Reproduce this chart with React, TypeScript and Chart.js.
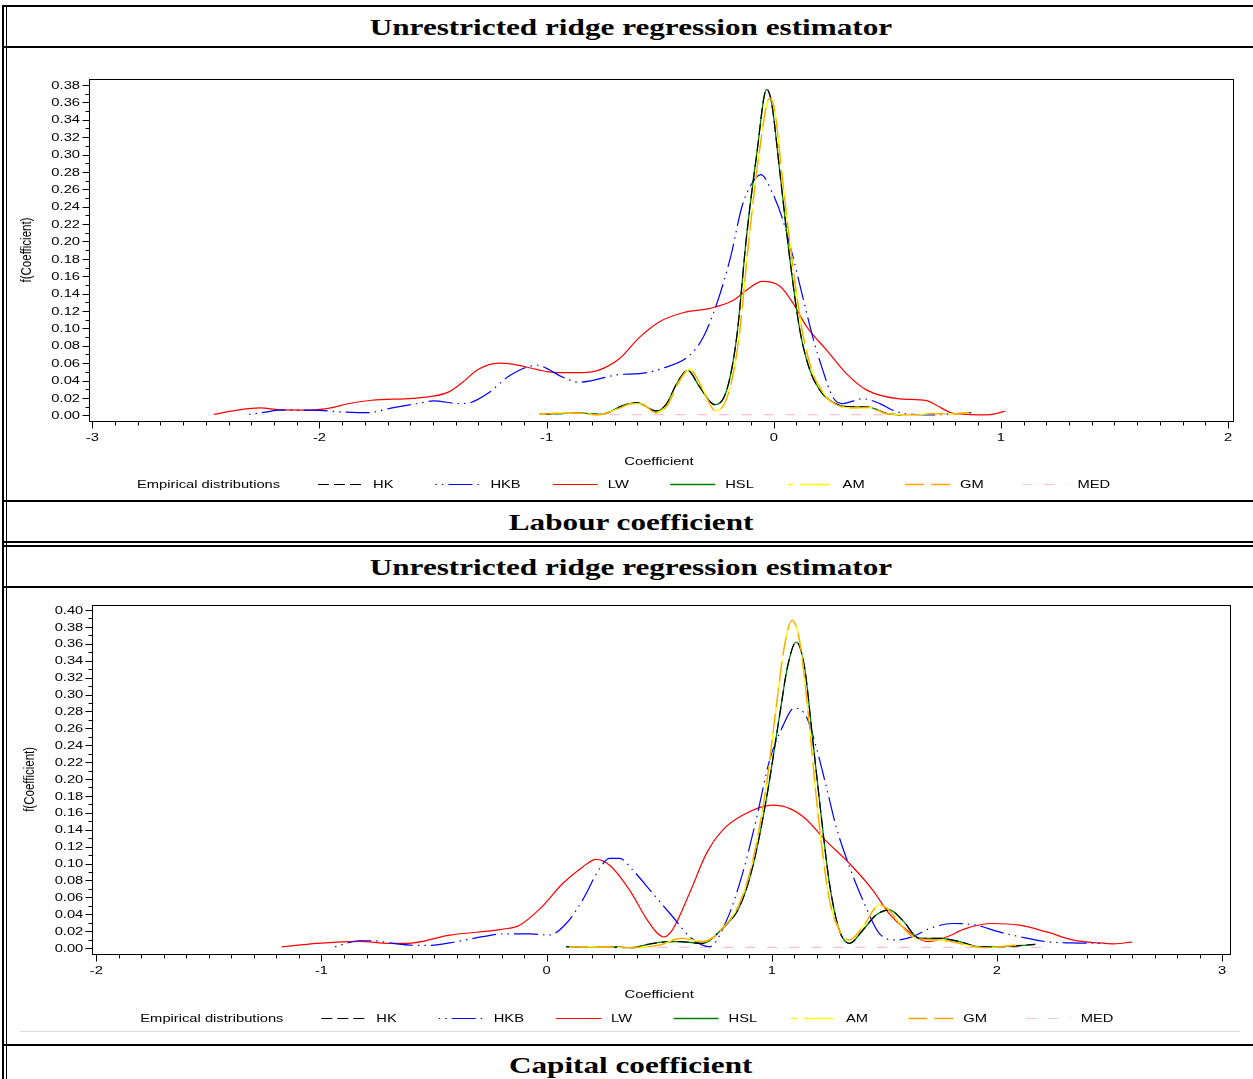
import React, { useEffect, useRef } from 'react';
import { Chart, registerables } from 'chart.js';

Chart.register(...registerables);

type Pt = [number, number];

// ---------- Labour coefficient (top panel) ----------
const labourXTicks = [-3, -2, -1, 0, 1, 2];
const labourYTicks = [0, 0.02, 0.04, 0.06, 0.08, 0.1, 0.12, 0.14, 0.16, 0.18, 0.2, 0.22, 0.24, 0.26, 0.28, 0.3, 0.32, 0.34, 0.36, 0.38];

const labourHSL: Pt[] = [
  [-1.03, 0.001], [-0.94, 0.002], [-0.855, 0.0027], [-0.77, 0.001], [-0.72, 0.004], [-0.68, 0.0096],
  [-0.604, 0.0146], [-0.516, 0.005], [-0.471, 0.0135], [-0.427, 0.0365], [-0.379, 0.0518], [-0.326, 0.0326],
  [-0.26, 0.0123], [-0.207, 0.029], [-0.163, 0.09], [-0.12, 0.205], [-0.075, 0.3], [-0.031, 0.375],
  [-0.009, 0.359], [0.026, 0.282], [0.07, 0.182], [0.115, 0.098], [0.159, 0.052], [0.203, 0.029],
  [0.26, 0.015], [0.348, 0.0096], [0.41, 0.0096], [0.5, 0.002], [0.56, 0.0005],
];
const labourHK: Pt[] = labourHSL;
const labourHKB: Pt[] = [
  [-2.31, 0.001], [-2.23, 0.004], [-2.18, 0.006], [-2.03, 0.006], [-1.91, 0.004], [-1.79, 0.003],
  [-1.68, 0.0085], [-1.56, 0.014], [-1.5, 0.0165], [-1.38, 0.0135], [-1.33, 0.015], [-1.26, 0.025],
  [-1.16, 0.046], [-1.04, 0.0576], [-1.0, 0.054], [-0.93, 0.044], [-0.855, 0.038], [-0.8, 0.04],
  [-0.72, 0.045], [-0.68, 0.047], [-0.59, 0.048], [-0.49, 0.054], [-0.37, 0.069], [-0.31, 0.09],
  [-0.25, 0.129], [-0.19, 0.182], [-0.14, 0.24], [-0.1, 0.265], [-0.057, 0.277], [-0.004, 0.255],
  [0.04, 0.225], [0.085, 0.182], [0.128, 0.136], [0.172, 0.09], [0.216, 0.052], [0.26, 0.021],
  [0.304, 0.0135], [0.392, 0.019], [0.467, 0.0135], [0.524, 0.0058], [0.612, 0.001], [0.7, 0.0005],
  [0.8, 0.002], [0.87, 0.003],
];
const labourLW: Pt[] = [
  [-2.465, 0.001], [-2.36, 0.006], [-2.26, 0.0085], [-2.18, 0.0065], [-2.04, 0.006], [-1.95, 0.0085],
  [-1.88, 0.013], [-1.77, 0.0173], [-1.59, 0.0195], [-1.5, 0.022], [-1.43, 0.027], [-1.37, 0.038],
  [-1.3, 0.053], [-1.21, 0.06], [-1.15, 0.059], [-1.09, 0.0556], [-0.99, 0.05], [-0.9, 0.049],
  [-0.8, 0.05], [-0.75, 0.054], [-0.68, 0.065], [-0.59, 0.09], [-0.5, 0.108], [-0.4, 0.118],
  [-0.28, 0.123], [-0.18, 0.132], [-0.12, 0.144], [-0.05, 0.154], [0.03, 0.148], [0.085, 0.129],
  [0.145, 0.102], [0.233, 0.075], [0.32, 0.048], [0.41, 0.029], [0.555, 0.019], [0.673, 0.017],
  [0.72, 0.011], [0.78, 0.003], [0.85, 0.001], [0.93, 0.0005], [0.98, 0.002], [1.02, 0.005],
];
const labourAM: Pt[] = [
  [-1.03, 0.001], [-0.94, 0.0025], [-0.85, 0.0025], [-0.77, 0.0005], [-0.7, 0.006], [-0.62, 0.0135],
  [-0.58, 0.013], [-0.52, 0.003], [-0.47, 0.011], [-0.42, 0.037], [-0.37, 0.053], [-0.32, 0.034],
  [-0.255, 0.005], [-0.2, 0.025], [-0.155, 0.085], [-0.11, 0.2], [-0.065, 0.3], [-0.018, 0.365],
  [0.005, 0.35], [0.035, 0.28], [0.08, 0.18], [0.125, 0.098], [0.17, 0.05], [0.215, 0.027],
  [0.27, 0.013], [0.35, 0.0085], [0.42, 0.009], [0.5, 0.0015], [0.6, 0.0005], [0.7, 0.002],
  [0.78, 0.0015], [0.86, 0.003],
];
const labourGM: Pt[] = labourAM;
const labourMED: Pt[] = [[-0.82, 0.0008], [0.5, 0.0008]];

// ---------- Capital coefficient (bottom panel) ----------
const capitalXTicks = [-2, -1, 0, 1, 2, 3];
const capitalYTicks = [0, 0.02, 0.04, 0.06, 0.08, 0.1, 0.12, 0.14, 0.16, 0.18, 0.2, 0.22, 0.24, 0.26, 0.28, 0.3, 0.32, 0.34, 0.36, 0.38, 0.4];

const capitalHSL: Pt[] = [
  [0.087, 0.0015], [0.235, 0.0015], [0.38, 0.0004], [0.457, 0.0047], [0.546, 0.0075], [0.59, 0.0075],
  [0.69, 0.0055], [0.78, 0.023], [0.857, 0.049], [0.915, 0.096], [0.975, 0.175], [1.034, 0.274],
  [1.07, 0.333], [1.108, 0.362], [1.145, 0.333], [1.182, 0.246], [1.22, 0.155], [1.256, 0.0766],
  [1.3, 0.021], [1.345, 0.0055], [1.404, 0.021], [1.463, 0.039], [1.523, 0.045], [1.58, 0.033],
  [1.656, 0.0115], [1.744, 0.0115], [1.833, 0.0075], [1.92, 0.0015], [2.01, 0.0015], [2.17, 0.0044],
];
const capitalHK: Pt[] = capitalHSL;
const capitalHKB: Pt[] = [
  [-0.94, 0.0015], [-0.83, 0.0086], [-0.77, 0.0086], [-0.7, 0.006], [-0.61, 0.0035], [-0.52, 0.003],
  [-0.4, 0.0075], [-0.284, 0.0134], [-0.195, 0.0166], [-0.075, 0.0166], [0.013, 0.0154], [0.087, 0.029],
  [0.16, 0.057], [0.235, 0.094], [0.28, 0.106], [0.324, 0.106], [0.383, 0.092], [0.47, 0.065],
  [0.56, 0.037], [0.635, 0.0134], [0.723, 0.0015], [0.8, 0.033], [0.87, 0.088], [0.93, 0.151],
  [0.99, 0.222], [1.048, 0.262], [1.1, 0.284], [1.153, 0.274], [1.197, 0.238], [1.242, 0.191],
  [1.286, 0.1435], [1.345, 0.096], [1.404, 0.057], [1.478, 0.017], [1.552, 0.0095], [1.626, 0.0134],
  [1.7, 0.023], [1.803, 0.029], [1.907, 0.027], [2.01, 0.019], [2.1, 0.0134], [2.218, 0.0075],
  [2.335, 0.006], [2.48, 0.0055],
];
const capitalLW: Pt[] = [
  [-1.178, 0.0012], [-1.02, 0.0055], [-0.83, 0.0079], [-0.7, 0.0055], [-0.62, 0.0055], [-0.43, 0.0153],
  [-0.2, 0.022], [-0.12, 0.027], [-0.02, 0.049], [0.07, 0.076], [0.16, 0.096], [0.22, 0.105],
  [0.28, 0.098], [0.37, 0.068], [0.44, 0.036], [0.49, 0.018], [0.52, 0.013], [0.56, 0.022],
  [0.635, 0.065], [0.71, 0.112], [0.78, 0.139], [0.87, 0.157], [1.0, 0.169], [1.08, 0.165],
  [1.15, 0.153], [1.24, 0.127], [1.345, 0.1], [1.45, 0.068], [1.52, 0.041], [1.6, 0.021],
  [1.69, 0.0075], [1.775, 0.013], [1.86, 0.023], [1.98, 0.029], [2.1, 0.027], [2.22, 0.019],
  [2.34, 0.0094], [2.45, 0.006], [2.52, 0.005], [2.6, 0.007],
];
const capitalAM: Pt[] = [
  [0.1, 0.0015], [0.235, 0.0015], [0.354, 0.0004], [0.5, 0.0035], [0.598, 0.0115], [0.694, 0.0075],
  [0.78, 0.023], [0.857, 0.053], [0.916, 0.104], [0.975, 0.191], [1.02, 0.286], [1.056, 0.357],
  [1.09, 0.388], [1.123, 0.364], [1.16, 0.282], [1.205, 0.159], [1.256, 0.057], [1.3, 0.021],
  [1.345, 0.0095], [1.404, 0.025], [1.478, 0.051], [1.52, 0.045], [1.58, 0.025], [1.64, 0.0115],
  [1.744, 0.0095], [1.833, 0.0055], [1.937, 0.0004], [2.085, 0.0035],
];
const capitalGM: Pt[] = capitalAM;
const capitalMED: Pt[] = [[0.1, 0.0008], [2.2, 0.0008]];

const seriesNames = ['HK', 'HKB', 'LW', 'HSL', 'AM', 'GM', 'MED'];

// ---------- styles ----------
const STYLE: Record<string, { color: string; dash: number[]; offset: number; width: number; order: number }> = {
  HK: { color: '#000000', dash: [11, 5], offset: 0, width: 1.2, order: 2 },
  HKB: { color: '#0000ff', dash: [1.5, 5, 1.5, 5, 24, 5], offset: 0, width: 1.2, order: 4 },
  LW: { color: '#ff0000', dash: [], offset: 0, width: 1.2, order: 5 },
  HSL: { color: '#008000', dash: [], offset: 0, width: 1.3, order: 3 },
  AM: { color: '#ffff00', dash: [30, 6], offset: 24, width: 1.4, order: 1 },
  GM: { color: '#ffa500', dash: [19, 7], offset: 0, width: 1.3, order: 0 },
  MED: { color: '#ffc0cb', dash: [10, 12], offset: 0, width: 1.2, order: 6 },
};

const SX = 1.28;
const TICK_FONT = '11.5px "Liberation Sans", Arial, sans-serif';

function stretchedText(ctx: CanvasRenderingContext2D, s: string, x: number, y: number, align: CanvasTextAlign) {
  ctx.save();
  ctx.translate(x, y);
  ctx.scale(SX, 1);
  ctx.textAlign = align;
  ctx.textBaseline = 'middle';
  ctx.fillText(s, 0, 0);
  ctx.restore();
}

const sasAxesPlugin = {
  id: 'sasAxes',
  afterDraw(chart: any, _args: any, opts: any) {
    const { ctx, chartArea: ca, scales } = chart;
    const xs = scales.x;
    const ys = scales.y;
    const L = Math.round(ca.left) + 0.5;
    const B = Math.round(ca.bottom) + 0.5;
    ctx.save();
    ctx.strokeStyle = '#000';
    ctx.lineWidth = 1;
    ctx.setLineDash([]);
    ctx.strokeRect(L, Math.round(ca.top) + 0.5, Math.round(ca.right) - Math.round(ca.left), Math.round(ca.bottom) - Math.round(ca.top));

    // ticks
    ctx.beginPath();
    const yMaj: number[] = opts.yTicks;
    const xMaj: number[] = opts.xTicks;
    for (let i = 0; i < yMaj.length; i++) {
      const py = Math.round(ys.getPixelForValue(yMaj[i])) + 0.5;
      ctx.moveTo(L - 7, py); ctx.lineTo(L, py);
      const mv = yMaj[i] + 0.01;
      if (mv <= ys.max) {
        const pm = Math.round(ys.getPixelForValue(mv)) + 0.5;
        ctx.moveTo(L - 4, pm); ctx.lineTo(L, pm);
      }
    }
    for (let i = 0; i < xMaj.length; i++) {
      const px = Math.round(xs.getPixelForValue(xMaj[i])) + 0.5;
      ctx.moveTo(px, B); ctx.lineTo(px, B + 7);
      if (i < xMaj.length - 1) {
        for (let k = 1; k < 10; k++) {
          const pm = Math.round(xs.getPixelForValue(xMaj[i] + k * 0.1)) + 0.5;
          ctx.moveTo(pm, B); ctx.lineTo(pm, B + 4);
        }
      }
    }
    ctx.stroke();

    // tick labels
    ctx.fillStyle = '#000';
    ctx.font = TICK_FONT;
    for (const v of yMaj) {
      stretchedText(ctx, v.toFixed(2), ca.left - 9, ys.getPixelForValue(v) + 0.5, 'right');
    }
    for (const v of xMaj) {
      stretchedText(ctx, String(v), xs.getPixelForValue(v), ca.bottom + 17, 'center');
    }

    // axis titles
    const midX = (ca.left + ca.right) / 2;
    stretchedText(ctx, opts.xTitle, midX - 2, ca.bottom + 41, 'center');
    ctx.save();
    ctx.translate(ca.left - 62, (ca.top + ca.bottom) / 2);
    ctx.rotate(-Math.PI / 2);
    ctx.scale(1, SX);
    ctx.textAlign = 'center';
    ctx.textBaseline = 'middle';
    ctx.fillText(opts.yTitle, 0, 0);
    ctx.restore();

    // legend
    const ly = Math.round(ca.bottom + 63.5) + 0.5;
    stretchedText(ctx, opts.legendTitle, ca.left + 48, ly, 'left');
    const ds = chart.data.datasets;
    for (let i = 0; i < ds.length; i++) {
      const x0 = ca.left + 229 + i * 117.4;
      ctx.save();
      ctx.strokeStyle = ds[i].borderColor;
      ctx.lineWidth = ds[i].borderWidth;
      ctx.setLineDash(ds[i].borderDash || []);
      ctx.lineDashOffset = ds[i].borderDashOffset || 0;
      ctx.beginPath();
      ctx.moveTo(x0, ly);
      ctx.lineTo(x0 + 45, ly);
      ctx.stroke();
      ctx.restore();
      stretchedText(ctx, ds[i].label, x0 + 55, ly, 'left');
    }
    ctx.restore();
  },
};

interface ChartProps {
  left: number;
  top: number;
  w: number;
  h: number;
  pad: { left: number; top: number; right: number; bottom: number };
  xMin: number; xMax: number; yMin: number; yMax: number;
  xTicks: number[]; yTicks: number[];
  series: Pt[][];
}

function DensityChart(p: ChartProps) {
  const ref = useRef<HTMLCanvasElement>(null);
  useEffect(() => {
    const canvas = ref.current;
    if (!canvas) return;
    const datasets = seriesNames.map((name, i) => {
      const st = STYLE[name];
      return {
        label: name,
        data: p.series[i].map(([x, y]) => ({ x, y })),
        borderColor: st.color,
        borderDash: st.dash,
        borderDashOffset: st.offset,
        borderWidth: st.width,
        pointRadius: 0,
        fill: false,
        cubicInterpolationMode: 'monotone' as const,
        order: st.order,
      };
    });
    const chart = new Chart(canvas, {
      type: 'line',
      data: { datasets },
      options: {
        animation: false,
        responsive: false,
        events: [],
        layout: { padding: p.pad },
        scales: {
          x: { type: 'linear', display: false, min: p.xMin, max: p.xMax },
          y: { type: 'linear', display: false, min: p.yMin, max: p.yMax },
        },
        plugins: {
          legend: { display: false },
          tooltip: { enabled: false },
          sasAxes: {
            xTicks: p.xTicks,
            yTicks: p.yTicks,
            xTitle: 'Coefficient',
            yTitle: 'f(Coefficient)',
            legendTitle: 'Empirical distributions',
          },
        } as any,
      },
      plugins: [sasAxesPlugin],
    });
    return () => chart.destroy();
  }, []);
  return (
    <canvas
      ref={ref}
      width={p.w}
      height={p.h}
      style={{ position: 'absolute', left: p.left, top: p.top, width: p.w, height: p.h }}
    />
  );
}

function Rule({ x, y, w, h, color = '#000' }: { x: number; y: number; w: number; h: number; color?: string }) {
  return <div style={{ position: 'absolute', left: x, top: y, width: w, height: h, background: color }} />;
}

function Heading({ text, top, height }: { text: string; top: number; height: number }) {
  return (
    <div
      style={{
        position: 'absolute', left: 6, width: 1250, top, height,
        display: 'flex', alignItems: 'center', justifyContent: 'center',
      }}
    >
      <span
        style={{
          display: 'inline-block',
          fontFamily: '"Liberation Serif", "Times New Roman", serif',
          fontWeight: 'bold',
          fontSize: 24,
          lineHeight: 1,
          transform: 'scaleX(1.3)',
          whiteSpace: 'nowrap',
          color: '#000',
        }}
      >
        {text}
      </span>
    </div>
  );
}

export default function App() {
  return (
    <div style={{ position: 'fixed', left: 0, top: 0, width: 1253, height: 1079, background: '#fff', overflow: 'hidden' }}>
      {/* frame rules */}
      <Rule x={2} y={5} w={2} h={1074} />
      <Rule x={6} y={5} w={1} h={1074} />
      <Rule x={2} y={5} w={1251} h={2} />
      <Rule x={2} y={46} w={1251} h={2} />
      <Rule x={2} y={500} w={1251} h={2} />
      <Rule x={2} y={541} w={1251} h={2} />
      <Rule x={2} y={545} w={1251} h={2} />
      <Rule x={2} y={586} w={1251} h={2} />
      <Rule x={20} y={1031} w={1220} h={1} color="#dcdcdc" />
      <Rule x={2} y={1044} w={1251} h={2} />

      <Heading text="Unrestricted ridge regression estimator" top={7} height={39} />
      <Heading text="Labour coefficient" top={502} height={39} />
      <Heading text="Unrestricted ridge regression estimator" top={547} height={39} />
      <Heading text="Capital coefficient" top={1046} height={38} />

      <DensityChart
        left={6} top={49} w={1245} h={450}
        pad={{ left: 83, top: 30.3, right: 18, bottom: 78.3 }}
        xMin={-3.0145} xMax={2.022} yMin={-0.0062} yMax={0.3866}
        xTicks={labourXTicks} yTicks={labourYTicks}
        series={[labourHK, labourHKB, labourLW, labourHSL, labourAM, labourGM, labourMED]}
      />
      <DensityChart
        left={6} top={589} w={1245} h={440}
        pad={{ left: 86.3, top: 15.7, right: 21, bottom: 75 }}
        xMin={-2.0178} xMax={3.035} yMin={-0.0071} yMax={0.4063}
        xTicks={capitalXTicks} yTicks={capitalYTicks}
        series={[capitalHK, capitalHKB, capitalLW, capitalHSL, capitalAM, capitalGM, capitalMED]}
      />
    </div>
  );
}
